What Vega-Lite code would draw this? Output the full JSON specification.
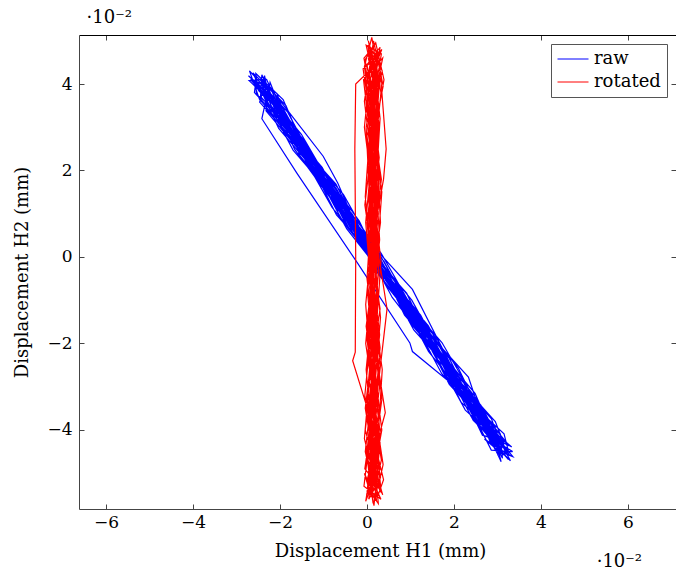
{
  "$schema": "https://vega.github.io/schema/vega-lite/v6.json",
  "width": 597,
  "height": 474,
  "autosize": {"type": "none"},
  "padding": {"left": 79, "top": 35, "right": 0, "bottom": 61},
  "background": "white",
  "title": {"text": "·10⁻²", "orient": "bottom", "anchor": "end", "frame": "group", "font": "DejaVu Serif", "fontSize": 18, "fontWeight": "normal", "color": "black", "dx": -34, "offset": -7},
  "config": {"view": {"stroke": null}, "font": "DejaVu Serif"},
  "data": {"values": [
    {"s":"raw","i":1,"x":0.00100,"y":0.00066},
    {"s":"raw","i":2,"x":-0.01067,"y":0.01692},
    {"s":"raw","i":3,"x":-0.02126,"y":0.03628},
    {"s":"raw","i":4,"x":-0.02590,"y":0.04041},
    {"s":"raw","i":5,"x":-0.01416,"y":0.02659},
    {"s":"raw","i":6,"x":-0.00258,"y":0.00429},
    {"s":"raw","i":7,"x":0.01250,"y":-0.01571},
    {"s":"raw","i":8,"x":0.02267,"y":-0.03296},
    {"s":"raw","i":9,"x":0.03060,"y":-0.04210},
    {"s":"raw","i":10,"x":0.02513,"y":-0.03852},
    {"s":"raw","i":11,"x":0.01626,"y":-0.01923},
    {"s":"raw","i":12,"x":0.00042,"y":0.00028},
    {"s":"raw","i":13,"x":-0.01208,"y":0.02198},
    {"s":"raw","i":14,"x":-0.02470,"y":0.03641},
    {"s":"raw","i":15,"x":-0.02702,"y":0.04303},
    {"s":"raw","i":16,"x":-0.01823,"y":0.03349},
    {"s":"raw","i":17,"x":-0.00750,"y":0.01303},
    {"s":"raw","i":18,"x":0.00759,"y":-0.00697},
    {"s":"raw","i":19,"x":0.01892,"y":-0.02945},
    {"s":"raw","i":20,"x":0.02917,"y":-0.04065},
    {"s":"raw","i":21,"x":0.03083,"y":-0.04554},
    {"s":"raw","i":22,"x":0.02484,"y":-0.03153},
    {"s":"raw","i":23,"x":0.00850,"y":-0.01236},
    {"s":"raw","i":24,"x":-0.00333,"y":0.00978},
    {"s":"raw","i":25,"x":-0.01740,"y":0.02806},
    {"s":"raw","i":26,"x":-0.02229,"y":0.04039},
    {"s":"raw","i":27,"x":-0.02322,"y":0.03380},
    {"s":"raw","i":28,"x":-0.00966,"y":0.01758},
    {"s":"raw","i":29,"x":0.00275,"y":-0.00418},
    {"s":"raw","i":30,"x":0.01892,"y":-0.02345},
    {"s":"raw","i":31,"x":0.02690,"y":-0.03975},
    {"s":"raw","i":32,"x":0.03252,"y":-0.04683},
    {"s":"raw","i":33,"x":0.02395,"y":-0.03691},
    {"s":"raw","i":34,"x":0.01300,"y":-0.01538},
    {"s":"raw","i":35,"x":-0.00191,"y":0.00473},
    {"s":"raw","i":36,"x":-0.01667,"y":0.02494},
    {"s":"raw","i":37,"x":-0.02266,"y":0.03896},
    {"s":"raw","i":38,"x":-0.02417,"y":0.03197},
    {"s":"raw","i":39,"x":-0.01609,"y":0.01934},
    {"s":"raw","i":40,"x":-0.00217,"y":-0.00143},
    {"s":"raw","i":41,"x":0.00985,"y":-0.01986},
    {"s":"raw","i":42,"x":0.01044,"y":-0.02186},
    {"s":"raw","i":43,"x":0.02174,"y":-0.03118},
    {"s":"raw","i":44,"x":0.03149,"y":-0.04272},
    {"s":"raw","i":45,"x":0.02653,"y":-0.04120},
    {"s":"raw","i":46,"x":0.01825,"y":-0.02389},
    {"s":"raw","i":47,"x":0.00448,"y":-0.00662},
    {"s":"raw","i":48,"x":-0.00714,"y":0.01685},
    {"s":"raw","i":49,"x":-0.02065,"y":0.03190},
    {"s":"raw","i":50,"x":-0.02435,"y":0.04024},
    {"s":"raw","i":51,"x":-0.02073,"y":0.03784},
    {"s":"raw","i":52,"x":-0.01540,"y":0.02338},
    {"s":"raw","i":53,"x":0.00052,"y":0.00394},
    {"s":"raw","i":54,"x":0.01040,"y":-0.01470},
    {"s":"raw","i":55,"x":0.02502,"y":-0.03380},
    {"s":"raw","i":56,"x":0.03113,"y":-0.04654},
    {"s":"raw","i":57,"x":0.03064,"y":-0.04088},
    {"s":"raw","i":58,"x":0.01807,"y":-0.02762},
    {"s":"raw","i":59,"x":0.00911,"y":-0.00837},
    {"s":"raw","i":60,"x":-0.00702,"y":0.00974},
    {"s":"raw","i":61,"x":-0.01741,"y":0.03044},
    {"s":"raw","i":62,"x":-0.02678,"y":0.04103},
    {"s":"raw","i":63,"x":-0.02233,"y":0.03918},
    {"s":"raw","i":64,"x":-0.01008,"y":0.02330},
    {"s":"raw","i":65,"x":-0.00673,"y":0.01712},
    {"s":"raw","i":66,"x":0.00050,"y":0.00033},
    {"s":"raw","i":67,"x":0.01525,"y":-0.01989},
    {"s":"raw","i":68,"x":0.02442,"y":-0.03780},
    {"s":"raw","i":69,"x":0.03104,"y":-0.04421},
    {"s":"raw","i":70,"x":0.02861,"y":-0.03743},
    {"s":"raw","i":71,"x":0.01573,"y":-0.02316},
    {"s":"raw","i":72,"x":0.00390,"y":-0.00102},
    {"s":"raw","i":73,"x":-0.01147,"y":0.01760},
    {"s":"raw","i":74,"x":-0.02000,"y":0.03472},
    {"s":"raw","i":75,"x":-0.02556,"y":0.04063},
    {"s":"raw","i":76,"x":-0.02588,"y":0.03802},
    {"s":"raw","i":77,"x":-0.01618,"y":0.02766},
    {"s":"raw","i":78,"x":-0.00181,"y":0.00839},
    {"s":"raw","i":79,"x":0.00863,"y":-0.01347},
    {"s":"raw","i":80,"x":0.02252,"y":-0.02947},
    {"s":"raw","i":81,"x":0.02775,"y":-0.04158},
    {"s":"raw","i":82,"x":0.03297,"y":-0.04713},
    {"s":"raw","i":83,"x":0.02616,"y":-0.03426},
    {"s":"raw","i":84,"x":0.01075,"y":-0.01687},
    {"s":"raw","i":85,"x":-0.00163,"y":0.00611},
    {"s":"raw","i":86,"x":-0.01553,"y":0.02450},
    {"s":"raw","i":87,"x":-0.02114,"y":0.03756},
    {"s":"raw","i":88,"x":-0.02625,"y":0.04258},
    {"s":"raw","i":89,"x":-0.02030,"y":0.02973},
    {"s":"raw","i":90,"x":-0.00468,"y":0.01129},
    {"s":"raw","i":91,"x":0.00837,"y":-0.01125},
    {"s":"raw","i":92,"x":0.02331,"y":-0.02775},
    {"s":"raw","i":93,"x":0.02852,"y":-0.04348},
    {"s":"raw","i":94,"x":0.02769,"y":-0.03804},
    {"s":"raw","i":95,"x":0.01722,"y":-0.01978},
    {"s":"raw","i":96,"x":0.00127,"y":-0.00156},
    {"s":"raw","i":97,"x":-0.01031,"y":0.02075},
    {"s":"raw","i":98,"x":-0.02277,"y":0.03529},
    {"s":"raw","i":99,"x":-0.02368,"y":0.04068},
    {"s":"raw","i":100,"x":-0.01935,"y":0.03156},
    {"s":"raw","i":101,"x":-0.00803,"y":0.01147},
    {"s":"raw","i":102,"x":0.00844,"y":-0.00881},
    {"s":"raw","i":103,"x":0.01920,"y":-0.02806},
    {"s":"raw","i":104,"x":0.02946,"y":-0.03927},
    {"s":"raw","i":105,"x":0.02998,"y":-0.04551},
    {"s":"raw","i":106,"x":0.02224,"y":-0.03085},
    {"s":"raw","i":107,"x":0.01044,"y":-0.00749},
    {"s":"raw","i":108,"x":-0.00657,"y":0.01125},
    {"s":"raw","i":109,"x":-0.01771,"y":0.03144},
    {"s":"raw","i":110,"x":-0.02505,"y":0.03858},
    {"s":"raw","i":111,"x":-0.02261,"y":0.03779},
    {"s":"raw","i":112,"x":-0.01291,"y":0.02143},
    {"s":"raw","i":113,"x":0.00125,"y":0.00083},
    {"s":"raw","i":114,"x":0.01227,"y":-0.01826},
    {"s":"raw","i":115,"x":0.02700,"y":-0.03609},
    {"s":"raw","i":116,"x":0.03137,"y":-0.04579},
    {"s":"raw","i":117,"x":0.02700,"y":-0.04208},
    {"s":"raw","i":118,"x":0.03292,"y":-0.04597},
    {"s":"raw","i":119,"x":0.02297,"y":-0.03396},
    {"s":"raw","i":120,"x":0.01232,"y":-0.01343},
    {"s":"raw","i":121,"x":-0.00440,"y":0.00668},
    {"s":"raw","i":122,"x":-0.01480,"y":0.02738},
    {"s":"raw","i":123,"x":-0.02563,"y":0.03999},
    {"s":"raw","i":124,"x":-0.02201,"y":0.03579},
    {"s":"raw","i":125,"x":-0.00900,"y":0.01802},
    {"s":"raw","i":126,"x":0.00295,"y":-0.00284},
    {"s":"raw","i":127,"x":0.01534,"y":-0.01983},
    {"s":"raw","i":128,"x":0.02428,"y":-0.03668},
    {"s":"raw","i":129,"x":0.03152,"y":-0.04329},
    {"s":"raw","i":130,"x":0.02949,"y":-0.03804},
    {"s":"raw","i":131,"x":0.01734,"y":-0.02450},
    {"s":"raw","i":132,"x":0.00687,"y":-0.00625},
    {"s":"raw","i":133,"x":-0.00745,"y":0.01186},
    {"s":"raw","i":134,"x":-0.01636,"y":0.02993},
    {"s":"raw","i":135,"x":-0.02545,"y":0.03771},
    {"s":"raw","i":136,"x":-0.02556,"y":0.04243},
    {"s":"raw","i":137,"x":-0.01929,"y":0.03639},
    {"s":"raw","i":138,"x":-0.01160,"y":0.01870},
    {"s":"raw","i":139,"x":0.00057,"y":0.00277},
    {"s":"raw","i":140,"x":0.01045,"y":-0.01587},
    {"s":"raw","i":141,"x":0.02345,"y":-0.03125},
    {"s":"raw","i":142,"x":0.02880,"y":-0.04209},
    {"s":"raw","i":143,"x":0.03347,"y":-0.04500},
    {"s":"raw","i":144,"x":0.02857,"y":-0.04465},
    {"s":"raw","i":145,"x":0.02089,"y":-0.02934},
    {"s":"raw","i":146,"x":0.01029,"y":-0.00998},
    {"s":"raw","i":147,"x":-0.00428,"y":0.00796},
    {"s":"raw","i":148,"x":-0.01546,"y":0.02694},
    {"s":"raw","i":149,"x":-0.02448,"y":0.03716},
    {"s":"raw","i":150,"x":-0.02417,"y":0.04215},
    {"s":"raw","i":151,"x":-0.02028,"y":0.03334},
    {"s":"raw","i":152,"x":-0.00803,"y":0.01747},
    {"s":"raw","i":153,"x":0.00253,"y":-0.00312},
    {"s":"raw","i":154,"x":0.01702,"y":-0.02112},
    {"s":"raw","i":155,"x":0.02622,"y":-0.03780},
    {"s":"raw","i":156,"x":0.03326,"y":-0.04395},
    {"s":"raw","i":157,"x":0.02928,"y":-0.04118},
    {"s":"raw","i":158,"x":0.01718,"y":-0.02700},
    {"s":"raw","i":159,"x":0.00684,"y":-0.00747},
    {"s":"raw","i":160,"x":-0.00541,"y":0.01440},
    {"s":"raw","i":161,"x":-0.01977,"y":0.03129},
    {"s":"raw","i":162,"x":-0.02333,"y":0.04032},
    {"s":"raw","i":163,"x":-0.02468,"y":0.03582},
    {"s":"raw","i":164,"x":-0.01360,"y":0.02338},
    {"s":"raw","i":165,"x":0.00022,"y":0.00494},
    {"s":"raw","i":166,"x":0.01010,"y":-0.01370},
    {"s":"raw","i":167,"x":0.02506,"y":-0.03259},
    {"s":"raw","i":168,"x":0.03012,"y":-0.04481},
    {"s":"raw","i":169,"x":0.03352,"y":-0.04617},
    {"s":"raw","i":170,"x":0.02410,"y":-0.03441},
    {"s":"raw","i":171,"x":0.01406,"y":-0.01589},
    {"s":"raw","i":172,"x":-0.00030,"y":0.00101},
    {"s":"raw","i":173,"x":-0.01128,"y":0.02131},
    {"s":"raw","i":174,"x":-0.02216,"y":0.03509},
    {"s":"raw","i":175,"x":-0.02356,"y":0.04195},
    {"s":"raw","i":176,"x":-0.02400,"y":0.03808},
    {"s":"raw","i":177,"x":-0.01700,"y":0.02472},
    {"s":"raw","i":178,"x":-0.00455,"y":0.01018},
    {"s":"raw","i":179,"x":0.00757,"y":-0.01058},
    {"s":"raw","i":180,"x":0.02159,"y":-0.02769},
    {"s":"raw","i":181,"x":0.02781,"y":-0.04094},
    {"s":"raw","i":182,"x":0.03130,"y":-0.04224},
    {"s":"raw","i":183,"x":0.02167,"y":-0.03362},
    {"s":"raw","i":184,"x":0.01407,"y":-0.01827},
    {"s":"raw","i":185,"x":0.00322,"y":0.00092},
    {"s":"raw","i":186,"x":-0.01025,"y":0.01720},
    {"s":"raw","i":187,"x":-0.01943,"y":0.03331},
    {"s":"raw","i":188,"x":-0.02712,"y":0.04081},
    {"s":"raw","i":189,"x":-0.02309,"y":0.04107},
    {"s":"raw","i":190,"x":-0.01731,"y":0.02811},
    {"s":"raw","i":191,"x":-0.00498,"y":0.01229},
    {"s":"raw","i":192,"x":0.00435,"y":-0.00552},
    {"s":"raw","i":193,"x":0.01762,"y":-0.02312},
    {"s":"raw","i":194,"x":0.02630,"y":-0.03955},
    {"s":"raw","i":195,"x":0.03253,"y":-0.04502},
    {"s":"raw","i":196,"x":0.03150,"y":-0.04091},
    {"s":"raw","i":197,"x":0.02060,"y":-0.03073},
    {"s":"raw","i":198,"x":0.01000,"y":-0.01137},
    {"s":"raw","i":199,"x":-0.00377,"y":0.00591},
    {"s":"raw","i":200,"x":-0.01331,"y":0.02476},
    {"s":"raw","i":201,"x":-0.02305,"y":0.03571},
    {"s":"raw","i":202,"x":-0.02429,"y":0.04087},
    {"s":"raw","i":203,"x":-0.01864,"y":0.03502},
    {"s":"raw","i":204,"x":-0.01223,"y":0.01949},
    {"s":"raw","i":205,"x":0.00184,"y":0.00121},
    {"s":"raw","i":206,"x":0.01387,"y":-0.01960},
    {"s":"raw","i":207,"x":0.02574,"y":-0.03453},
    {"s":"raw","i":208,"x":0.02999,"y":-0.04371},
    {"s":"raw","i":209,"x":0.03083,"y":-0.04735},
    {"s":"raw","i":210,"x":0.02600,"y":-0.03675},
    {"s":"raw","i":211,"x":0.01413,"y":-0.02182},
    {"s":"raw","i":212,"x":0.00434,"y":-0.00313},
    {"s":"raw","i":213,"x":-0.00902,"y":0.01442},
    {"s":"raw","i":214,"x":-0.01753,"y":0.03096},
    {"s":"raw","i":215,"x":-0.02430,"y":0.03907},
    {"s":"raw","i":216,"x":-0.02725,"y":0.04192},
    {"s":"raw","i":217,"x":-0.01986,"y":0.03542},
    {"s":"raw","i":218,"x":-0.01046,"y":0.01826},
    {"s":"raw","i":219,"x":0.00335,"y":-0.00018},
    {"s":"raw","i":220,"x":0.01349,"y":-0.01866},
    {"s":"raw","i":221,"x":0.02260,"y":-0.03540},
    {"s":"raw","i":222,"x":0.03019,"y":-0.04237},
    {"s":"raw","i":223,"x":0.03274,"y":-0.04369},
    {"s":"raw","i":224,"x":0.02279,"y":-0.03169},
    {"s":"raw","i":225,"x":0.00897,"y":-0.01325},
    {"s":"raw","i":226,"x":-0.00130,"y":0.00633},
    {"s":"raw","i":227,"x":-0.01372,"y":0.02210},
    {"s":"raw","i":228,"x":-0.02198,"y":0.03701},
    {"s":"raw","i":229,"x":-0.02601,"y":0.04094},
    {"s":"raw","i":230,"x":-0.02161,"y":0.03845},
    {"s":"raw","i":231,"x":-0.01461,"y":0.02510},
    {"s":"raw","i":232,"x":-0.00465,"y":0.00651},
    {"s":"raw","i":233,"x":0.00895,"y":-0.01086},
    {"s":"raw","i":234,"x":0.02099,"y":-0.02569},
    {"s":"raw","i":235,"x":0.02777,"y":-0.03978},
    {"s":"raw","i":236,"x":0.03017,"y":-0.04599},
    {"s":"raw","i":237,"x":0.02984,"y":-0.04021},
    {"s":"raw","i":238,"x":0.01805,"y":-0.02523},
    {"s":"raw","i":239,"x":0.00580,"y":-0.00936},
    {"s":"raw","i":240,"x":-0.00408,"y":0.00929},
    {"s":"raw","i":241,"x":-0.01509,"y":0.02837},
    {"s":"raw","i":242,"x":-0.02341,"y":0.03846},
    {"s":"raw","i":243,"x":-0.02316,"y":0.03443},
    {"s":"raw","i":244,"x":-0.01228,"y":0.02065},
    {"s":"raw","i":245,"x":-0.00115,"y":0.00284},
    {"s":"raw","i":246,"x":0.01284,"y":-0.01549},
    {"s":"raw","i":247,"x":0.02123,"y":-0.03151},
    {"s":"raw","i":248,"x":0.02997,"y":-0.04132},
    {"s":"raw","i":249,"x":0.02608,"y":-0.03850},
    {"s":"raw","i":250,"x":0.01757,"y":-0.02195},
    {"s":"raw","i":251,"x":0.00422,"y":-0.00440},
    {"s":"raw","i":252,"x":-0.00713,"y":0.01446},
    {"s":"raw","i":253,"x":-0.01963,"y":0.03017},
    {"s":"raw","i":254,"x":-0.02338,"y":0.03968},
    {"s":"raw","i":255,"x":-0.01981,"y":0.03245},
    {"s":"raw","i":256,"x":-0.00701,"y":0.01574},
    {"s":"raw","i":257,"x":0.00249,"y":-0.00196},
    {"s":"rotated","i":1,"x":0.0012,"y":0.0},
    {"s":"rotated","i":2,"x":0.0004,"y":0.020},
    {"s":"rotated","i":3,"x":0.0022,"y":0.042},
    {"s":"rotated","i":4,"x":0.0006,"y":0.048},
    {"s":"rotated","i":5,"x":0.0028,"y":0.030},
    {"s":"rotated","i":6,"x":0.0002,"y":0.005},
    {"s":"rotated","i":7,"x":0.0018,"y":-0.020},
    {"s":"rotated","i":8,"x":0.0008,"y":-0.040},
    {"s":"rotated","i":9,"x":0.0024,"y":-0.052},
    {"s":"rotated","i":10,"x":-0.0002,"y":-0.046},
    {"s":"rotated","i":11,"x":0.0030,"y":-0.025},
    {"s":"rotated","i":12,"x":0.0005,"y":0.0},
    {"s":"rotated","i":13,"x":0.0020,"y":0.025},
    {"s":"rotated","i":14,"x":-0.0006,"y":0.044},
    {"s":"rotated","i":15,"x":0.0011,"y":0.0508},
    {"s":"rotated","i":16,"x":0.0032,"y":0.038},
    {"s":"rotated","i":17,"x":0.0009,"y":0.015},
    {"s":"rotated","i":18,"x":0.0025,"y":-0.010},
    {"s":"rotated","i":19,"x":-0.0004,"y":-0.035},
    {"s":"rotated","i":20,"x":0.0020,"y":-0.050},
    {"s":"rotated","i":21,"x":0.0007,"y":-0.055},
    {"s":"rotated","i":22,"x":0.0034,"y":-0.040},
    {"s":"rotated","i":23,"x":0.0003,"y":-0.015},
    {"s":"rotated","i":24,"x":0.0026,"y":0.010},
    {"s":"rotated","i":25,"x":0.0009,"y":0.033},
    {"s":"rotated","i":26,"x":0.0036,"y":0.046},
    {"s":"rotated","i":27,"x":-0.0008,"y":0.041},
    {"s":"rotated","i":28,"x":0.0016,"y":0.020},
    {"s":"rotated","i":29,"x":0.0000,"y":-0.005},
    {"s":"rotated","i":30,"x":0.0029,"y":-0.030},
    {"s":"rotated","i":31,"x":0.0006,"y":-0.048},
    {"s":"rotated","i":32,"x":0.0014,"y":-0.057},
    {"s":"rotated","i":33,"x":-0.0003,"y":-0.044},
    {"s":"rotated","i":34,"x":0.0024,"y":-0.020},
    {"s":"rotated","i":35,"x":0.0010,"y":0.005},
    {"s":"rotated","i":36,"x":-0.0002,"y":0.030},
    {"s":"rotated","i":37,"x":0.0025,"y":0.045},
    {"s":"rotated","i":38,"x":-0.0026,"y":0.040},
    {"s":"rotated","i":39,"x":-0.0028,"y":0.025},
    {"s":"rotated","i":40,"x":-0.0026,"y":0.0},
    {"s":"rotated","i":41,"x":-0.0027,"y":-0.022},
    {"s":"rotated","i":42,"x":-0.0033,"y":-0.024},
    {"s":"rotated","i":43,"x":0.0010,"y":-0.038},
    {"s":"rotated","i":44,"x":0.0028,"y":-0.053},
    {"s":"rotated","i":45,"x":-0.0005,"y":-0.049},
    {"s":"rotated","i":46,"x":0.0021,"y":-0.030},
    {"s":"rotated","i":47,"x":0.0001,"y":-0.008},
    {"s":"rotated","i":48,"x":0.0033,"y":0.018},
    {"s":"rotated","i":49,"x":0.0003,"y":0.038},
    {"s":"rotated","i":50,"x":0.0018,"y":0.047},
    {"s":"rotated","i":51,"x":0.0035,"y":0.043},
    {"s":"rotated","i":52,"x":0.0000,"y":0.028},
    {"s":"rotated","i":53,"x":0.0026,"y":0.003},
    {"s":"rotated","i":54,"x":0.0006,"y":-0.018},
    {"s":"rotated","i":55,"x":0.0023,"y":-0.042},
    {"s":"rotated","i":56,"x":0.0004,"y":-0.056},
    {"s":"rotated","i":57,"x":0.0031,"y":-0.051},
    {"s":"rotated","i":58,"x":-0.0001,"y":-0.033},
    {"s":"rotated","i":59,"x":0.0030,"y":-0.012},
    {"s":"rotated","i":60,"x":-0.0005,"y":0.012},
    {"s":"rotated","i":61,"x":0.0022,"y":0.035},
    {"s":"rotated","i":62,"x":0.0002,"y":0.049},
    {"s":"rotated","i":63,"x":0.0029,"y":0.045},
    {"s":"rotated","i":64,"x":0.0044,"y":0.025},
    {"s":"rotated","i":65,"x":0.0038,"y":0.018},
    {"s":"rotated","i":66,"x":0.0006,"y":0.0},
    {"s":"rotated","i":67,"x":0.0018,"y":-0.025},
    {"s":"rotated","i":68,"x":-0.0004,"y":-0.045},
    {"s":"rotated","i":69,"x":0.0016,"y":-0.054},
    {"s":"rotated","i":70,"x":0.0033,"y":-0.047},
    {"s":"rotated","i":71,"x":0.0004,"y":-0.028},
    {"s":"rotated","i":72,"x":0.0027,"y":-0.003},
    {"s":"rotated","i":73,"x":0.0001,"y":0.021},
    {"s":"rotated","i":74,"x":0.0024,"y":0.040},
    {"s":"rotated","i":75,"x":0.0010,"y":0.048},
    {"s":"rotated","i":76,"x":-0.0007,"y":0.046},
    {"s":"rotated","i":77,"x":0.0017,"y":0.032},
    {"s":"rotated","i":78,"x":0.0031,"y":0.008},
    {"s":"rotated","i":79,"x":-0.0002,"y":-0.016},
    {"s":"rotated","i":80,"x":0.0026,"y":-0.037},
    {"s":"rotated","i":81,"x":0.0003,"y":-0.050},
    {"s":"rotated","i":82,"x":0.0016,"y":-0.0575},
    {"s":"rotated","i":83,"x":0.0030,"y":-0.043},
    {"s":"rotated","i":84,"x":-0.0003,"y":-0.020},
    {"s":"rotated","i":85,"x":0.0020,"y":0.006},
    {"s":"rotated","i":86,"x":0.0005,"y":0.029},
    {"s":"rotated","i":87,"x":0.0030,"y":0.043},
    {"s":"rotated","i":88,"x":0.0015,"y":0.050},
    {"s":"rotated","i":89,"x":-0.0006,"y":0.036},
    {"s":"rotated","i":90,"x":0.0023,"y":0.012},
    {"s":"rotated","i":91,"x":0.0008,"y":-0.014},
    {"s":"rotated","i":92,"x":0.0042,"y":-0.036},
    {"s":"rotated","i":93,"x":-0.0001,"y":-0.052},
    {"s":"rotated","i":94,"x":0.0022,"y":-0.047},
    {"s":"rotated","i":95,"x":0.0035,"y":-0.026},
    {"s":"rotated","i":96,"x":0.0002,"y":-0.002},
    {"s":"rotated","i":97,"x":0.0028,"y":0.023},
    {"s":"rotated","i":98,"x":0.0004,"y":0.042},
    {"s":"rotated","i":99,"x":0.0026,"y":0.047},
    {"s":"rotated","i":100,"x":0.0012,"y":0.037},
    {"s":"rotated","i":101,"x":-0.0004,"y":0.014},
    {"s":"rotated","i":102,"x":0.0022,"y":-0.012},
    {"s":"rotated","i":103,"x":0.0006,"y":-0.034},
    {"s":"rotated","i":104,"x":0.0030,"y":-0.049},
    {"s":"rotated","i":105,"x":0.0000,"y":-0.0545},
    {"s":"rotated","i":106,"x":0.0016,"y":-0.038},
    {"s":"rotated","i":107,"x":0.0046,"y":-0.012},
    {"s":"rotated","i":108,"x":0.0007,"y":0.013},
    {"s":"rotated","i":109,"x":0.0025,"y":0.036},
    {"s":"rotated","i":110,"x":0.0003,"y":0.046},
    {"s":"rotated","i":111,"x":0.0019,"y":0.044},
    {"s":"rotated","i":112,"x":0.0010,"y":0.025},
    {"s":"rotated","i":113,"x":0.0015,"y":0.0},
    {"s":"rotated","i":114,"x":0.0002,"y":-0.022},
    {"s":"rotated","i":115,"x":0.0027,"y":-0.045},
    {"s":"rotated","i":116,"x":0.0010,"y":-0.0555},
    {"s":"rotated","i":117,"x":-0.0006,"y":-0.050},
    {"s":"rotated","i":118,"x":0.0022,"y":-0.0565},
    {"s":"rotated","i":119,"x":0.0005,"y":-0.041},
    {"s":"rotated","i":120,"x":0.0029,"y":-0.018},
    {"s":"rotated","i":121,"x":0.0000,"y":0.008},
    {"s":"rotated","i":122,"x":0.0027,"y":0.031},
    {"s":"rotated","i":123,"x":0.0006,"y":0.0475},
    {"s":"rotated","i":124,"x":0.0013,"y":0.042},
    {"s":"rotated","i":125,"x":0.0024,"y":0.020},
    {"s":"rotated","i":126,"x":0.0009,"y":-0.004},
    {"s":"rotated","i":127,"x":0.0019,"y":-0.025},
    {"s":"rotated","i":128,"x":0.0001,"y":-0.044},
    {"s":"rotated","i":129,"x":0.0025,"y":-0.0535},
    {"s":"rotated","i":130,"x":0.0037,"y":-0.048},
    {"s":"rotated","i":131,"x":0.0010,"y":-0.030},
    {"s":"rotated","i":132,"x":0.0023,"y":-0.009},
    {"s":"rotated","i":133,"x":0.0003,"y":0.014},
    {"s":"rotated","i":134,"x":0.0028,"y":0.034},
    {"s":"rotated","i":135,"x":-0.0005,"y":0.0455},
    {"s":"rotated","i":136,"x":0.0020,"y":0.0495},
    {"s":"rotated","i":137,"x":0.0039,"y":0.041},
    {"s":"rotated","i":138,"x":0.0006,"y":0.022},
    {"s":"rotated","i":139,"x":0.0020,"y":0.002},
    {"s":"rotated","i":140,"x":0.0000,"y":-0.019},
    {"s":"rotated","i":141,"x":0.0024,"y":-0.039},
    {"s":"rotated","i":142,"x":0.0009,"y":-0.051},
    {"s":"rotated","i":143,"x":0.0032,"y":-0.056},
    {"s":"rotated","i":144,"x":-0.0007,"y":-0.053},
    {"s":"rotated","i":145,"x":0.0013,"y":-0.036},
    {"s":"rotated","i":146,"x":0.0031,"y":-0.014},
    {"s":"rotated","i":147,"x":0.0008,"y":0.009},
    {"s":"rotated","i":148,"x":0.0019,"y":0.031},
    {"s":"rotated","i":149,"x":0.0000,"y":0.0445},
    {"s":"rotated","i":150,"x":0.0030,"y":0.0485},
    {"s":"rotated","i":151,"x":0.0014,"y":0.039},
    {"s":"rotated","i":152,"x":0.0029,"y":0.019},
    {"s":"rotated","i":153,"x":0.0004,"y":-0.004},
    {"s":"rotated","i":154,"x":0.0026,"y":-0.027},
    {"s":"rotated","i":155,"x":0.0011,"y":-0.046},
    {"s":"rotated","i":156,"x":0.0036,"y":-0.055},
    {"s":"rotated","i":157,"x":0.0018,"y":-0.0505},
    {"s":"rotated","i":158,"x":-0.0005,"y":-0.032},
    {"s":"rotated","i":159,"x":0.0016,"y":-0.010},
    {"s":"rotated","i":160,"x":0.0034,"y":0.015},
    {"s":"rotated","i":161,"x":0.0007,"y":0.037},
    {"s":"rotated","i":162,"x":0.0027,"y":0.0465},
    {"s":"rotated","i":163,"x":-0.0009,"y":0.0435},
    {"s":"rotated","i":164,"x":0.0015,"y":0.027},
    {"s":"rotated","i":165,"x":0.0029,"y":0.004},
    {"s":"rotated","i":166,"x":0.0009,"y":-0.017},
    {"s":"rotated","i":167,"x":0.0030,"y":-0.041},
    {"s":"rotated","i":168,"x":0.0005,"y":-0.054},
    {"s":"rotated","i":169,"x":0.0026,"y":-0.057},
    {"s":"rotated","i":170,"x":0.0012,"y":-0.042},
    {"s":"rotated","i":171,"x":0.0030,"y":-0.021},
    {"s":"rotated","i":172,"x":0.0003,"y":0.001},
    {"s":"rotated","i":173,"x":0.0023,"y":0.024},
    {"s":"rotated","i":174,"x":0.0008,"y":0.0415},
    {"s":"rotated","i":175,"x":0.0034,"y":0.048},
    {"s":"rotated","i":176,"x":0.0009,"y":0.045},
    {"s":"rotated","i":177,"x":-0.0006,"y":0.030},
    {"s":"rotated","i":178,"x":0.0018,"y":0.011},
    {"s":"rotated","i":179,"x":0.0005,"y":-0.013},
    {"s":"rotated","i":180,"x":0.0028,"y":-0.035},
    {"s":"rotated","i":181,"x":0.0007,"y":-0.0495},
    {"s":"rotated","i":182,"x":0.0029,"y":-0.0525},
    {"s":"rotated","i":183,"x":-0.0004,"y":-0.040},
    {"s":"rotated","i":184,"x":0.0017,"y":-0.023},
    {"s":"rotated","i":185,"x":0.0032,"y":-0.001},
    {"s":"rotated","i":186,"x":0.0009,"y":0.020},
    {"s":"rotated","i":187,"x":0.0021,"y":0.0385},
    {"s":"rotated","i":188,"x":-0.0002,"y":0.049},
    {"s":"rotated","i":189,"x":0.0033,"y":0.047},
    {"s":"rotated","i":190,"x":0.0010,"y":0.033},
    {"s":"rotated","i":191,"x":0.0026,"y":0.013},
    {"s":"rotated","i":192,"x":0.0006,"y":-0.007},
    {"s":"rotated","i":193,"x":0.0020,"y":-0.029},
    {"s":"rotated","i":194,"x":0.0002,"y":-0.0475},
    {"s":"rotated","i":195,"x":0.0024,"y":-0.0555},
    {"s":"rotated","i":196,"x":0.0038,"y":-0.0515},
    {"s":"rotated","i":197,"x":0.0003,"y":-0.037},
    {"s":"rotated","i":198,"x":0.0021,"y":-0.015},
    {"s":"rotated","i":199,"x":0.0001,"y":0.007},
    {"s":"rotated","i":200,"x":0.0025,"y":0.028},
    {"s":"rotated","i":201,"x":0.0004,"y":0.0425},
    {"s":"rotated","i":202,"x":0.0022,"y":0.0475},
    {"s":"rotated","i":203,"x":0.0037,"y":0.0395},
    {"s":"rotated","i":204,"x":0.0005,"y":0.023},
    {"s":"rotated","i":205,"x":0.0022,"y":0.0},
    {"s":"rotated","i":206,"x":0.0008,"y":-0.024},
    {"s":"rotated","i":207,"x":0.0025,"y":-0.043},
    {"s":"rotated","i":208,"x":0.0010,"y":-0.053},
    {"s":"rotated","i":209,"x":-0.0003,"y":-0.0565},
    {"s":"rotated","i":210,"x":0.0015,"y":-0.045},
    {"s":"rotated","i":211,"x":-0.0002,"y":-0.026},
    {"s":"rotated","i":212,"x":0.0019,"y":-0.005},
    {"s":"rotated","i":213,"x":0.0004,"y":0.017},
    {"s":"rotated","i":214,"x":0.0024,"y":0.0355},
    {"s":"rotated","i":215,"x":0.0012,"y":0.046},
    {"s":"rotated","i":216,"x":0.0003,"y":0.050},
    {"s":"rotated","i":217,"x":0.0029,"y":0.0405},
    {"s":"rotated","i":218,"x":0.0013,"y":0.021},
    {"s":"rotated","i":219,"x":0.0027,"y":-0.002},
    {"s":"rotated","i":220,"x":0.0010,"y":-0.023},
    {"s":"rotated","i":221,"x":-0.0006,"y":-0.042},
    {"s":"rotated","i":222,"x":0.0019,"y":-0.052},
    {"s":"rotated","i":223,"x":0.0033,"y":-0.0545},
    {"s":"rotated","i":224,"x":0.0016,"y":-0.039},
    {"s":"rotated","i":225,"x":0.0002,"y":-0.016},
    {"s":"rotated","i":226,"x":0.0024,"y":0.006},
    {"s":"rotated","i":227,"x":0.0007,"y":0.026},
    {"s":"rotated","i":228,"x":0.0020,"y":0.043},
    {"s":"rotated","i":229,"x":0.0008,"y":0.0485},
    {"s":"rotated","i":230,"x":0.0031,"y":0.044},
    {"s":"rotated","i":231,"x":0.0016,"y":0.029},
    {"s":"rotated","i":232,"x":-0.0003,"y":0.008},
    {"s":"rotated","i":233,"x":0.0015,"y":-0.014},
    {"s":"rotated","i":234,"x":0.0034,"y":-0.033},
    {"s":"rotated","i":235,"x":0.0013,"y":-0.0485},
    {"s":"rotated","i":236,"x":-0.0001,"y":-0.055},
    {"s":"rotated","i":237,"x":0.0028,"y":-0.050},
    {"s":"rotated","i":238,"x":0.0012,"y":-0.031},
    {"s":"rotated","i":239,"x":-0.0003,"y":-0.011},
    {"s":"rotated","i":240,"x":0.0017,"y":0.010},
    {"s":"rotated","i":241,"x":0.0030,"y":0.032},
    {"s":"rotated","i":242,"x":0.0016,"y":0.045},
    {"s":"rotated","i":243,"x":-0.0004,"y":0.0415},
    {"s":"rotated","i":244,"x":0.0011,"y":0.024},
    {"s":"rotated","i":245,"x":0.0006,"y":0.003},
    {"s":"rotated","i":246,"x":0.0022,"y":-0.020},
    {"s":"rotated","i":247,"x":0.0004,"y":-0.038},
    {"s":"rotated","i":248,"x":0.0023,"y":-0.051},
    {"s":"rotated","i":249,"x":0.0006,"y":-0.0465},
    {"s":"rotated","i":250,"x":0.0026,"y":-0.028},
    {"s":"rotated","i":251,"x":0.0011,"y":-0.006},
    {"s":"rotated","i":252,"x":0.0020,"y":0.016},
    {"s":"rotated","i":253,"x":0.0002,"y":0.036},
    {"s":"rotated","i":254,"x":0.0023,"y":0.046},
    {"s":"rotated","i":255,"x":0.0013,"y":0.038},
    {"s":"rotated","i":256,"x":0.0028,"y":0.017},
    {"s":"rotated","i":257,"x":0.0010,"y":-0.003}
  ]},
  "layer": [
    {
      "mark": {"type": "line", "strokeWidth": 1.2, "clip": true},
      "encoding": {
        "x": {"field": "x", "type": "quantitative",
          "scale": {"domain": [-0.06621, 0.07103], "nice": false, "zero": false},
          "axis": {"orient": "bottom", "values": [-0.06, -0.04, -0.02, 0, 0.02, 0.04, 0.06],
            "labelExpr": "(datum.value < -0.000001 ? '−' : '') + format(abs(datum.value) * 100, '.0f')",
            "grid": false, "tickSize": -5, "labelPadding": 10, "labelFontSize": 17, "labelFont": "DejaVu Serif", "labelColor": "black",
            "domainColor": "#444", "tickColor": "#444",
            "title": "Displacement H1 (mm)", "titleFont": "DejaVu Serif", "titleFontSize": 18, "titleFontWeight": "normal", "titleColor": "black",
            "titleX": 301, "titleY": 47, "titleAlign": "center", "titleBaseline": "alphabetic"}},
        "y": {"field": "y", "type": "quantitative",
          "scale": {"domain": [-0.05827, 0.05133], "nice": false, "zero": false},
          "axis": {"orient": "left", "values": [-0.04, -0.02, 0, 0.02, 0.04],
            "labelExpr": "(datum.value < -0.000001 ? '−' : '') + format(abs(datum.value) * 100, '.0f')",
            "grid": false, "tickSize": -5, "labelPadding": 12, "labelFontSize": 17, "labelFont": "DejaVu Serif", "labelColor": "black",
            "domainColor": "#444", "tickColor": "#444",
            "title": "Displacement H2 (mm)", "titleFont": "DejaVu Serif", "titleFontSize": 18, "titleFontWeight": "normal", "titleColor": "black",
            "titleX": -57, "titleY": 237, "titleAngle": -90, "titleAlign": "center", "titleBaseline": "middle"}},
        "color": {"field": "s", "type": "nominal",
          "scale": {"domain": ["raw", "rotated"], "range": ["#0000ff", "#ff0000"]},
          "legend": {"title": null, "orient": "top-right", "offset": 9, "symbolType": "stroke", "symbolSize": 961, "symbolStrokeWidth": 1,
            "clipHeight": 18,
            "labelFontSize": 18, "labelFont": "DejaVu Serif", "labelColor": "black", "labelOffset": 5, "padding": 6, "rowPadding": 5,
            "strokeColor": "#555", "fillColor": "white", "cornerRadius": 0}},
        "order": {"field": "i", "type": "quantitative"}
      }
    },
    {
      "mark": {"type": "line", "strokeOpacity": 0},
      "encoding": {
        "x": {"field": "x", "type": "quantitative",
          "scale": {"domain": [-0.06621, 0.07103], "nice": false, "zero": false},
          "axis": {"orient": "top", "values": [-0.06, -0.04, -0.02, 0, 0.02, 0.04, 0.06], "labels": false, "grid": false,
            "tickSize": -5, "domainColor": "black", "tickColor": "#444",
            "title": "·10⁻²", "titleFont": "DejaVu Serif", "titleFontSize": 18, "titleFontWeight": "normal", "titleColor": "black",
            "titleX": 7, "titleY": -13, "titleAlign": "left", "titleBaseline": "alphabetic", "titleAngle": 0}},
        "y": {"field": "y", "type": "quantitative",
          "scale": {"domain": [-0.05827, 0.05133], "nice": false, "zero": false},
          "axis": {"orient": "right", "values": [-0.04, -0.02, 0, 0.02, 0.04], "labels": false, "grid": false,
            "tickSize": -5, "domain": false, "tickColor": "#444", "title": null}},
        "detail": {"field": "s", "type": "nominal"},
        "order": {"field": "i", "type": "quantitative"}
      }
    }
  ],
  "resolve": {"axis": {"x": "independent", "y": "independent"}}
}
